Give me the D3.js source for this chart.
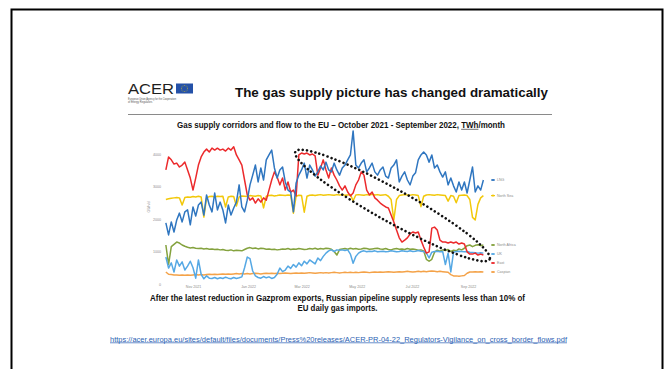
<!DOCTYPE html>
<html><head><meta charset="utf-8">
<script src="https://cdn.jsdelivr.net/npm/d3@7"></script>
<style>
html,body{margin:0;padding:0;background:#fff;}
svg{display:block;font-family:"Liberation Sans",Arial,sans-serif;}
</style></head><body>
<svg id="slide" width="667" height="369"></svg>
<script>
// Daily-ish flows (GWh/d), one value every 3 days from 2 Oct 2021
const startDate = new Date(2021, 9, 2);
const stepDays = 3;

const lng = [1880,1510,1910,1600,1970,2180,1910,2220,2280,1820,
  2370,2090,2430,2520,2120,2740,2430,2220,2800,2280,
  2520,2280,1880,2430,2120,2340,2520,3050,2370,2220,
  2580,3050,3350,3660,3140,3570,3200,3820,3970,4120,
  3570,3260,3510,3600,3140,2890,2830,2220,3110,3350,
  3510,3720,3260,3660,3510,3320,3450,3630,3510,3750,
  3510,3450,3720,3510,3350,3570,3660,3820,3970,4710,
  3660,3570,3720,3820,3450,3570,3720,3450,3350,3510,
  3600,3320,3260,3570,3660,3820,3140,3320,3450,3200,
  3050,3320,3420,3820,3970,4060,3970,3750,3970,3570,
  3660,3450,3290,3450,3050,3260,3020,2830,3140,2890,
  3140,2800,3200,3600,2830,3020,2890,3200];

const northSea = [2600,2620,2640,2650,2660,2650,2430,2660,2680,2670,
  2690,2680,2700,2680,2060,2650,2690,2700,2680,2700,
  2690,2700,2370,2680,2700,2690,2400,2680,2710,2700,
  2690,2720,2710,2700,2720,2710,2340,2700,2720,2730,
  2710,2720,2740,2730,2720,2740,2730,2180,2700,2730,
  2720,2210,2700,2730,2740,2720,2740,2750,2730,2740,
  2750,2740,2730,2750,2740,2750,2730,2740,2750,2560,
  2740,2750,2740,2730,2750,2740,2760,2740,2750,2730,
  2740,2750,2700,2600,1970,2600,2720,2740,2750,2740,
  2730,2750,2740,2720,2380,2700,2740,2750,2740,2730,
  2750,2740,2730,2720,2550,2720,2700,2500,2720,2730,
  2740,2720,2600,2050,1970,2450,2650,2720];

const northAfrica = [1200,600,1150,1220,1290,1260,1200,1160,1130,1110,
  1120,1100,1090,1100,1080,1090,1070,1080,1060,1070,
  1050,1060,1040,1030,1050,1020,1040,1030,1020,1060,
  1100,1120,1090,1110,1080,1100,1090,1070,1080,1060,
  1070,1050,1060,1080,1070,1090,1060,1080,1070,1090,
  1080,1060,1070,1090,1080,1100,1070,1090,1080,1100,
  1090,1070,1000,890,1060,1080,1090,1070,1100,1080,
  1090,1070,1080,1100,1090,1070,1080,1090,1100,1080,
  1070,1090,1060,1050,1080,1090,1070,1080,1060,1090,
  1070,1080,1060,1040,1050,1020,760,700,760,980,
  1040,1010,1050,1030,1060,1000,1040,1020,1080,1050,
  1100,1180,1200,1150,1190,1210,1180,1200];

const uk = [830,490,650,370,740,550,680,430,550,700,
  500,180,740,300,160,250,180,170,200,160,
  190,170,210,180,160,200,170,190,220,500,
  830,780,400,250,200,180,230,190,220,170,
  200,300,490,380,430,550,480,600,520,650,
  560,700,620,740,680,620,800,720,850,950,
  1020,1050,1000,1050,1040,1050,1030,1050,920,640,
  850,950,1000,1020,990,1010,1000,1020,990,1000,
  1010,990,1000,1020,1010,990,1000,1020,1010,1000,
  1020,1000,1010,1030,1010,1000,950,800,980,1000,
  1010,990,1000,600,950,370,980,1000,1010,1000,
  990,1000,980,970,960,950,960,950];

const east = [3510,3910,3820,3690,3720,3600,3660,3750,3510,3260,
  2890,3260,3660,3910,4060,4150,4060,4180,4120,4180,
  4120,4150,4090,4180,4120,4220,3970,3820,3660,3200,
  2740,2580,2650,2490,2620,2520,2650,2580,2890,3200,
  3450,3290,3050,3260,2890,3140,2830,2890,2710,3970,
  4030,4000,4030,3970,4000,3940,3350,3570,3820,3510,
  3260,3570,3350,3200,3020,2890,3020,2830,2710,2800,
  3050,3200,3450,3350,2890,2740,2830,2650,2580,2490,
  2430,2370,2340,2120,1910,1660,1420,1290,1350,1420,
  1540,1600,1570,1600,1350,1140,950,990,1720,1750,
  1660,1350,1290,1290,1260,1290,1260,1290,1230,1260,
  1230,990,920,920,950,890,920,890];

const caspian = [370,300,290,280,280,270,280,270,280,270,
  280,290,280,290,280,290,300,290,300,290,
  300,310,300,310,300,310,320,310,320,310,
  320,310,320,330,320,310,320,330,320,330,
  320,330,320,330,340,330,320,330,340,330,
  340,330,340,350,340,330,340,350,340,350,
  340,350,360,350,340,350,360,350,360,350,
  360,350,360,370,360,350,360,370,360,370,
  360,370,380,370,360,370,380,370,380,390,
  380,370,380,390,380,390,380,390,400,390,
  380,390,380,370,360,290,250,250,240,250,
  260,330,370,370,380,370,380,370];

const xTickDates = ["2021-11-01","2022-01-01","2022-03-01","2022-05-01","2022-07-01","2022-09-01"];
const yTicks = [0, 1000, 2000, 3000, 4000];

const series = [
  {name: "Caspian", values: caspian, color: "#f4a248"},
  {name: "North Africa", values: northAfrica, color: "#84a23e"},
  {name: "UK", values: uk, color: "#55a8e4"},
  {name: "North Sea", values: northSea, color: "#f2c80a"},
  {name: "East", values: east, color: "#ec2a2c"},
  {name: "LNG", values: lng, color: "#2f76c0"}
];

const svg = d3.select("#slide");
const parse = d3.timeParse("%Y-%m-%d");
const dates = d3.range(lng.length).map(i => d3.timeDay.offset(startDate, i * stepDays));

// slide frame
svg.append("rect").attr("x", 11.5).attr("y", 9.5).attr("width", 651).attr("height", 380)
  .attr("fill", "none").attr("stroke", "#000").attr("stroke-width", 2);

// ACER logo block
const logo = svg.append("g");
logo.append("text").attr("x", 128).attr("y", 93.5).attr("font-size", 14).attr("fill", "#1e1e1e")
  .attr("textLength", 46).attr("lengthAdjust", "spacingAndGlyphs").text("ACER");
logo.append("rect").attr("x", 176).attr("y", 83.5).attr("width", 17).attr("height", 10).attr("fill", "#2451a8");
d3.range(12).forEach(k => {
  const a = k / 12 * 2 * Math.PI;
  logo.append("circle").attr("cx", 184.5 + 3 * Math.cos(a)).attr("cy", 88.5 + 3 * Math.sin(a))
    .attr("r", 0.4).attr("fill", "#ffd900");
});
logo.append("text").attr("x", 128).attr("y", 99.5).attr("font-size", 2.6).attr("fill", "#555")
  .attr("textLength", 48).attr("lengthAdjust", "spacingAndGlyphs")
  .text("European Union Agency for the Cooperation");
logo.append("text").attr("x", 128).attr("y", 103).attr("font-size", 2.6).attr("fill", "#555")
  .text("of Energy Regulators");

// headline
svg.append("text").attr("x", 235).attr("y", 97).attr("font-size", 13.2).attr("font-weight", "bold")
  .attr("fill", "#111").attr("textLength", 313).attr("lengthAdjust", "spacingAndGlyphs")
  .text("The gas supply picture has changed dramatically");
svg.append("line").attr("x1", 128).attr("x2", 552).attr("y1", 114.5).attr("y2", 114.5)
  .attr("stroke", "#8a8a8a").attr("stroke-width", 1.2);

// chart subtitle, with the unit underlined
const subText = "Gas supply corridors and flow to the EU \u2013 October 2021 - September 2022, TWh/month";
const sub = svg.append("text").attr("x", 177).attr("y", 128).attr("font-size", 8.2).attr("font-weight", "bold")
  .attr("fill", "#111").attr("textLength", 328).attr("lengthAdjust", "spacingAndGlyphs").text(subText);
const uStart = subText.indexOf("TWh");
const subNode = sub.node();
const ux0 = subNode.getStartPositionOfChar(uStart).x;
const ux1 = subNode.getEndPositionOfChar(uStart + 2).x;
svg.append("line").attr("x1", ux0).attr("x2", ux1).attr("y1", 129.3).attr("y2", 129.3)
  .attr("stroke", "#111").attr("stroke-width", 0.6);

// chart
const x = d3.scaleTime().domain([parse("2021-11-01"), parse("2022-09-01")]).range([193, 468]);
const y = d3.scaleLinear().domain([0, 4000]).range([284, 154]);

const xAxis = svg.append("g").attr("transform", "translate(0,285.5)")
  .call(d3.axisBottom(x).tickValues(xTickDates.map(parse)).tickFormat(d3.timeFormat("%b %Y"))
    .tickSize(0).tickPadding(0));
const yAxis = svg.append("g").attr("transform", "translate(161,0)")
  .call(d3.axisLeft(y).tickValues(yTicks).tickFormat(d3.format("d")).tickSize(0).tickPadding(0));
[xAxis, yAxis].forEach(g => {
  g.select(".domain").remove();
  g.selectAll("text").attr("font-size", 3.6).attr("fill", "#8a8a8a").attr("font-family", "Liberation Sans, Arial, sans-serif");
});
svg.append("text").attr("transform", "translate(150,207) rotate(-90)").attr("text-anchor", "middle")
  .attr("font-size", 3.6).attr("fill", "#8a8a8a").text("GWh/d");

const line = d3.line().x((d, i) => x(dates[i])).y(d => y(d));
svg.append("g").selectAll("path").data(series).join("path")
  .attr("d", s => line(s.values)).attr("fill", "none").attr("stroke", s => s.color)
  .attr("stroke-width", 1.5).attr("stroke-linejoin", "round");

// end-of-line legend, nudged apart where labels would collide
const legendOrder = ["LNG", "North Sea", "North Africa", "UK", "East", "Caspian"];
const legend = legendOrder.map(n => {
  const s = series.find(d => d.name === n);
  return {name: n, color: s.color, y: y(s.values[s.values.length - 1])};
}).sort((a, b) => a.y - b.y);
for (let k = 1; k < legend.length; k++) {
  if (legend[k].y - legend[k - 1].y < 9) legend[k].y = legend[k - 1].y + 9;
}
const lg = svg.append("g").selectAll("g").data(legend).join("g")
  .attr("transform", d => `translate(491,${d.y})`);
lg.append("line").attr("x1", 0).attr("x2", 4).attr("stroke", d => d.color).attr("stroke-width", 1.2);
lg.append("circle").attr("cx", 2).attr("r", 1.1).attr("fill", d => d.color);
lg.append("text").attr("x", 6).attr("dy", "0.35em").attr("font-size", 3.6).attr("fill", "#8a8a8a")
  .text(d => d.name);

// highlight around the collapse of eastern flows
svg.append("g").attr("transform", "translate(392.5,205.5) rotate(29)")
  .append("ellipse").attr("rx", 111).attr("ry", 16.5).attr("fill", "none")
  .attr("stroke", "#111").attr("stroke-width", 2.6).attr("stroke-dasharray", "0 4.3")
  .attr("stroke-linecap", "round");

// caption
svg.append("text").attr("x", 150).attr("y", 300.5).attr("font-size", 9).attr("font-weight", "bold")
  .attr("fill", "#111").attr("textLength", 375).attr("lengthAdjust", "spacingAndGlyphs")
  .text("After the latest reduction in Gazprom exports, Russian pipeline supply represents less than 10% of");
svg.append("text").attr("x", 337.5).attr("y", 310.5).attr("font-size", 9).attr("font-weight", "bold")
  .attr("fill", "#111").attr("text-anchor", "middle").attr("textLength", 80).attr("lengthAdjust", "spacingAndGlyphs")
  .text("EU daily gas imports.");

// source link
svg.append("text").attr("x", 110).attr("y", 341.5).attr("font-size", 7).attr("fill", "#2b5fb3")
  .attr("text-decoration", "underline").attr("textLength", 457).attr("lengthAdjust", "spacingAndGlyphs")
  .text("https://acer.europa.eu/sites/default/files/documents/Press%20releases/ACER-PR-04-22_Regulators-Vigilance_on_cross_border_flows.pdf");
</script>
</body></html>
